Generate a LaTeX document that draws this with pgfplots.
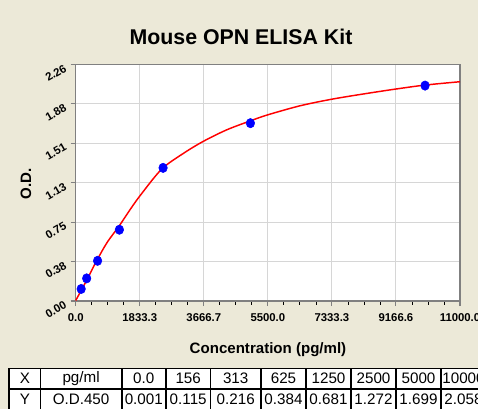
\documentclass[border=0pt]{standalone}
\usepackage{pgfplots}
\pgfplotsset{compat=1.18}
\usepackage{fontspec}
\setmainfont{Liberation Sans}
\definecolor{bg}{HTML}{ECE9D8}
\definecolor{framec}{HTML}{808080}
\definecolor{gridc}{HTML}{D6D6D6}
\begin{document}
\begin{tikzpicture}[x=0.75pt,y=0.75pt]
\clip (0,0) rectangle (478,409);
\fill[bg] (0,0) rectangle (478,409);
\node[font=\fontsize{16}{19}\selectfont\bfseries] at (241,372) {Mouse OPN ELISA Kit};
\begin{axis}[
  at={(56.8pt,81pt)}, anchor=south west,
  scale only axis, width=288.2pt, height=177.4pt,
  xmin=0, xmax=11000, ymin=0, ymax=2.26,
  scaled x ticks=false, scaled y ticks=false,
  axis background/.style={fill=white},
  axis line style={framec, line width=1.1pt},
  xtick={0,1833.333,3666.667,5500,7333.333,9166.667,11000},
  xticklabels={\textbf{0.0},\textbf{1833.3},\textbf{3666.7},\textbf{5500.0},\textbf{7333.3},\textbf{9166.6},\textbf{11000.0}},
  ytick={0,0.376667,0.753333,1.13,1.506667,1.883333,2.26},
  yticklabels={\textbf{0.00},\textbf{0.38},\textbf{0.75},\textbf{1.13},\textbf{1.51},\textbf{1.88},\textbf{2.26}},
  minor tick num=3,
  xtick pos=left, ytick pos=left,
  tick align=outside,
  major tick length=3.8pt, minor tick length=3pt,
  major tick style={framec, line width=0.8pt},
  minor tick style={black, line width=0.6pt},
  grid=major, major grid style={gridc, line width=0.8pt},
  xticklabel style={font=\fontsize{8.5}{10}\selectfont, yshift=-2pt},
  yticklabel style={font=\fontsize{8.5}{10}\selectfont, rotate=30, anchor=east, xshift=-1pt},
  clip=false,
]
\addplot[red, line width=1.1pt, smooth, no marks] coordinates {
(0,0.005) (300,0.19) (600,0.385) (900,0.56) (1250,0.72) (1550,0.87) (1850,1.01)
(2460,1.26) (3080,1.41) (3650,1.525) (4320,1.635) (4990,1.72) (5490,1.778)
(6420,1.865) (7330,1.928) (8235,1.978) (9140,2.024) (10000,2.063) (11000,2.095)};
\addplot[only marks, mark=*, mark size=3.2pt, blue, mark options={fill=blue, draw=blue, yscale=1.1}] coordinates {
(156,0.115) (313,0.216) (625,0.384) (1250,0.681) (2500,1.272) (5000,1.699) (10000,2.058)};
\end{axis}
\node[font=\fontsize{11.3}{13}\selectfont\bfseries] at (268,59) {Concentration (pg/ml)};
\node[font=\fontsize{11.3}{13}\selectfont\bfseries, rotate=90] at (26,225) {O.D.};
% table
\fill[white] (9.3,-3) rectangle (490,40.5);
\draw[black, line width=1.4pt] (9.3,40.5) -- (490,40.5);
\draw[black, line width=1.4pt] (9.3,19.7) -- (490,19.7);
\foreach \c in {9.3,40.5,121.7,166,210.5,261,306,351,396,441,486}
  \draw[black, line width=1.4pt] (\c,-3) -- (\c,40.5);
\begin{scope}[every node/.style={font=\fontsize{11.4}{13}\selectfont, inner sep=0pt}]
\node at (24.9,30.5) {X};
\node at (81.1,30.5) {pg/ml};
\node at (143.8,30.5) {0.0};
\node at (188.2,30.5) {156};
\node at (235.7,30.5) {313};
\node at (283.5,30.5) {625};
\node at (328.5,30.5) {1250};
\node at (373.5,30.5) {2500};
\node at (418.5,30.5) {5000};
\node at (463.5,30.5) {10000};
\node at (24.9,10) {Y};
\node at (81.1,10) {O.D.450};
\node at (143.8,10) {0.001};
\node at (188.2,10) {0.115};
\node at (235.7,10) {0.216};
\node at (283.5,10) {0.384};
\node at (328.5,10) {0.681};
\node at (373.5,10) {1.272};
\node at (418.5,10) {1.699};
\node at (463.5,10) {2.058};
\end{scope}
\end{tikzpicture}
\end{document}
